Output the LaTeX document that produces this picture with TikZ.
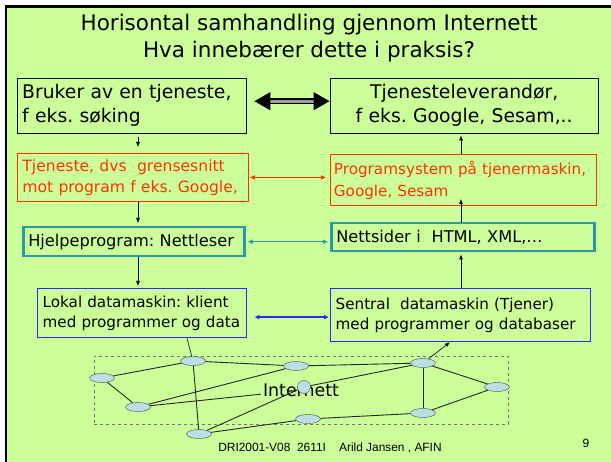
\documentclass[tikz,border=0pt]{standalone}
\usepackage{fontspec}
\setmainfont{DejaVu Sans}
\newfontfamily\footfont{Liberation Sans}
\usetikzlibrary{arrows.meta,shapes.geometric,calc}
\frenchspacing

\definecolor{slidegreen}{RGB}{204,255,153}
\definecolor{tjred}{RGB}{255,51,0}
\definecolor{nettteal}{RGB}{40,155,165}
\definecolor{maskinblue}{RGB}{40,40,255}
\definecolor{nodeblue}{RGB}{187,224,228}

\newcommand{\tittelfont}{\fontsize{21.5}{27}\selectfont}
\newcommand{\storfont}{\fontsize{18.8}{24}\selectfont}
\newcommand{\rodfont}{\fontsize{15.6}{21}\selectfont}
\newcommand{\tealfont}{\fontsize{16.2}{20}\selectfont}
\newcommand{\blafont}{\fontsize{15.2}{20.5}\selectfont}

\tikzset{
  boks/.style={draw, rectangle, anchor=north west, inner xsep=5pt, inner ysep=2pt, align=left},
  rodboks/.style={boks, draw=tjred, text=tjred, line width=0.9pt},
  tealboks/.style={boks, draw=nettteal, line width=2.5pt},
  blaboks/.style={boks, draw=maskinblue, line width=1.3pt},
  maskin/.style={ellipse, draw=black!70, fill=nodeblue, minimum width=25pt, minimum height=9pt, inner sep=0pt},
  pil/.style={-{Latex[length=5pt,width=4pt]}, line width=0.6pt},
  toveis/.style={{Latex[length=5pt,width=5pt]}-{Latex[length=5pt,width=5pt]}, line width=1.4pt},
  kant/.style={line width=0.9pt, black!85}
}

\begin{document}
\begin{tikzpicture}[x=1pt,y=-1pt]
\useasboundingbox (0,0) rectangle (611,462);
\fill[slidegreen] (6,6.5) rectangle (611,462);
\draw[line width=2.2pt] (6,462) -- (6,6.5) -- (611,6.5);

% tittel
\node[align=center, font=\tittelfont] (tittel) at (309,38.5) {Horisontal samhandling gjennom Internett\\Hva innebærer dette i praksis?};

% boksene
\node[boks, font=\storfont, text width=219pt, minimum height=55pt] (bruker) at (17,78) {Bruker av en tjeneste,\\f eks. søking};
\node[boks, font=\storfont, align=center, text width=258pt, minimum height=55pt] (leverandor) at (330,78) {Tjenesteleverandør,\\f eks. Google, Sesam,..};
\node[rodboks, font=\rodfont, text width=221pt, minimum height=48pt] (tjeneste) at (17,153) {Tjeneste, dvs\ \ grensesnitt\\mot program f eks. Google,};
\node[rodboks, font=\fontsize{15.2}{22}\selectfont, inner xsep=3.5pt, text width=259pt, minimum height=51pt] (progsys) at (330,154) {Programsystem på tjenermaskin,\\Google, Sesam};
\node[tealboks, font=\tealfont, text width=211pt, minimum height=29pt] (nettleser) at (22,226) {Hjelpeprogram: Nettleser};
\node[tealboks, font=\tealfont, text width=253pt, minimum height=28pt] (nettsider) at (330,222) {Nettsider i\ \ HTML, XML,…};
\node[blaboks, font=\blafont, text width=199pt, minimum height=49pt] (lokal) at (37,288) {Lokal datamaskin: klient\\med programmer og data};
\node[blaboks, font=\blafont, text width=250pt, minimum height=53pt] (sentral) at (330,288) {Sentral\ \ datamaskin (Tjener)\\med programmer og databaser};

% piler mellom kolonnene
\draw[line width=1.2pt, double=gray!75, double distance=3pt, {Triangle[length=16pt,width=18pt]}-{Triangle[length=16pt,width=18pt]}, shorten <=8pt, shorten >=0.5pt] ([yshift=4.5pt]bruker.east) -- ([yshift=4.5pt]leverandor.west);
\draw[toveis, tjred, shorten <=1pt, shorten >=4pt] (tjeneste.east) -- (tjeneste.east -| progsys.west);
\draw[toveis, nettteal, shorten <=2pt, shorten >=2pt] (nettleser.east) -- (nettleser.east -| nettsider.west);
\draw[toveis, maskinblue, shorten <=7pt, shorten >=1pt] ([yshift=-4pt]lokal.east) -- ([yshift=-4pt]lokal.east -| sentral.west);

% loddrette piler
\coordinate (vk) at (138,0);
\coordinate (hk) at (461,0);
\draw[pil, shorten <=4pt, shorten >=6pt] (bruker.south -| vk) -- (tjeneste.north -| vk);
\draw[pil, shorten >=3pt] (tjeneste.south -| vk) -- (nettleser.north -| vk);
\draw[pil, shorten >=2pt] (nettleser.south -| vk) -- (lokal.north -| vk);
\draw[pil, shorten >=2pt] (sentral.north -| hk) -- (nettsider.south -| hk);
\draw[pil, shorten >=-7pt] (nettsider.north -| hk) -- (progsys.south -| hk);
\draw[pil, shorten >=2pt] (progsys.north -| hk) -- (leverandor.south -| hk);

% internett
\node[draw=black!55, dashed, line width=0.6pt, minimum width=414pt, minimum height=68pt] (inett) at (301,390) {};
\node[font=\fontsize{17.4}{20}\selectfont, inner sep=2pt] (inettxt) at (301,390) {Internett};

\node[maskin] (n1) at (193,361) {};
\node[maskin] (n2) at (102,378) {};
\node[maskin] (n3) at (138,407) {};
\node[maskin] (n4) at (296,366) {};
\node[maskin] (n5) at (423,363) {};
\node[maskin] (n6) at (497,387) {};
\node[maskin] (n7) at (423,413) {};
\node[maskin] (n8) at (308,419) {};
\node[maskin] (n9) at (199,434) {};
\node[circle, draw=black!70, fill=nodeblue, minimum size=13pt, inner sep=0pt] (nc) at (304,387) {};

\draw[kant] (n2) -- (n1);
\draw[kant] (n2) -- (n3);
\draw[kant] (n1) -- (n4);
\draw[kant] (n1) -- (n9);
\draw[kant] (n3) -- (n4);
\draw[kant] (n3) -- (inettxt);
\draw[kant] (n4) -- (n5);
\draw[kant] (nc) -- (n5);
\draw[kant] (n9) -- (nc);
\draw[kant] (n9) -- (n8);
\draw[kant] (n8) -- (n7);
\draw[kant] (n5) -- (n7);
\draw[kant] (n5) -- (n6);
\draw[kant] (n7) -- (n6);

\coordinate (lk) at (187,0);
\coordinate (sk) at (450,0);
\draw[kant, line width=0.7pt] (lokal.south -| lk) -- (n1);
\draw[pil] (n5) -- (sentral.south -| sk);

% bunntekst
\node[font=\footfont\fontsize{11.9}{13}\selectfont] (bunn) at (330,448) {DRI2001-V08\ \ 2611I\ \ \ \ Arild Jansen , AFIN};
\node[font=\footfont\fontsize{12}{13}\selectfont] (sidenr) at (586,443) {9};
\end{tikzpicture}
\end{document}
